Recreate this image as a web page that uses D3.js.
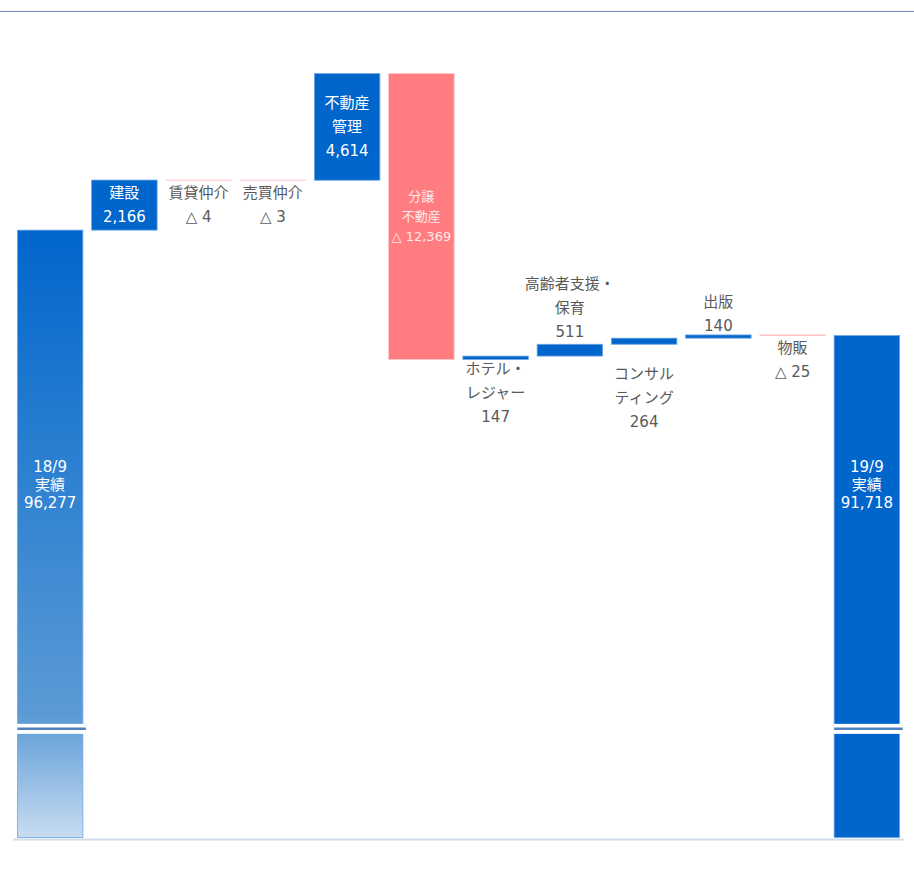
<!DOCTYPE html>
<html lang="ja">
<head>
<meta charset="utf-8">
<script src="https://cdn.jsdelivr.net/npm/d3@7/dist/d3.min.js"></script>
<style>
  html, body { margin: 0; padding: 0; background: #ffffff; }
  svg { display: block; }
  text { font-family: "DejaVu Sans", "Noto Sans CJK JP", sans-serif; }
</style>
</head>
<body>
<svg id="chart" width="914" height="875"></svg>
<script>
// 売上高の増減要因（前年同期 → 当期）
const categories = ["18/9 実績", "建設", "賃貸仲介", "売買仲介", "不動産管理", "分譲不動産",
  "ホテル・レジャー", "高齢者支援・保育", "コンサルティング", "出版", "物販", "19/9 実績"];
const barKinds = ["total", "delta", "delta", "delta", "delta", "delta",
  "delta", "delta", "delta", "delta", "delta", "total"];
const values = [96277, 2166, -4, -3, 4614, -12369, 147, 511, 264, 140, -25, 91718];
const nameLines = [["18/9", "実績"], ["建設"], ["賃貸仲介"], ["売買仲介"], ["不動産", "管理"],
  ["分譲", "不動産"], ["ホテル・", "レジャー"], ["高齢者支援・", "保育"], ["コンサル", "ティング"],
  ["出版"], ["物販"], ["19/9", "実績"]];
const yDomain = [70000, 105000];   // 縦軸は 70,000 から（省略線あり）
const breakValue = 74700;          // 省略線の位置

// ラベル配置（棒の内側 / 上 / 下）
const labelPlace = ["total", "inside", "below", "below", "inside", "inside",
  "below", "above", "below", "above", "below", "total"];
const labelGap = [0, 0, 13, 13, 0, 0, 9.6, 12, 30, 8.6, 12, 0];

const svg = d3.select("#chart");
const W = 914;

const x = d3.scaleBand()
  .domain(categories)
  .range([13, 904])
  .paddingInner(0.118)
  .paddingOuter(0.059);

const y = d3.scaleLinear().domain(yDomain).range([837.5, 28.5]);

// 累積して各棒の始点・終点を求める
let running = 0;
const bars = categories.map((c, i) => {
  let lo, hi;
  if (barKinds[i] === "total") {
    running = values[i];
    lo = yDomain[0]; hi = values[i];
  } else {
    const start = running;
    running += values[i];
    lo = Math.min(start, running); hi = Math.max(start, running);
  }
  return { cat: c, i, kind: barKinds[i], v: values[i], lo, hi };
});

const fmt = d3.format(",");
const valueText = v => (v < 0 ? "△ " + fmt(-v) : fmt(v));

// 上端の罫線
svg.append("line")
  .attr("x1", 0).attr("x2", W).attr("y1", 11.5).attr("y2", 11.5)
  .attr("stroke", "#6b8fc8").attr("stroke-width", 1);

// グラデーション（前年同期）
const defs = svg.append("defs");
const grad = defs.append("linearGradient")
  .attr("id", "gradPrev").attr("x1", 0).attr("x2", 0).attr("y1", 0).attr("y2", 1);
grad.append("stop").attr("offset", "0%").attr("stop-color", "#0066cc");
grad.append("stop").attr("offset", "80%").attr("stop-color", "#5b9bd5");
grad.append("stop").attr("offset", "100%").attr("stop-color", "#c8dcf2");

const fillOf = d => {
  if (d.kind === "total") return d.i === 0 ? "url(#gradPrev)" : "#0066cc";
  return d.v < 0 ? "#ff7c80" : "#0066cc";
};
const strokeOf = d => (d.kind === "delta" && d.v < 0) ? "#ffc4c6" : "#6fa6e4";

svg.append("g").selectAll("rect")
  .data(bars)
  .join("rect")
  .attr("x", d => x(d.cat))
  .attr("width", x.bandwidth())
  .attr("y", d => y(d.hi))
  .attr("height", d => Math.max(0.01, y(d.lo) - y(d.hi)))
  .attr("fill", fillOf)
  .attr("stroke", strokeOf)
  .attr("stroke-width", 0.8);

// 基準線
svg.append("line")
  .attr("x1", 13).attr("x2", 904)
  .attr("y1", y(yDomain[0]) + 2).attr("y2", y(yDomain[0]) + 2)
  .attr("stroke", "#d3deee").attr("stroke-width", 2);

// 省略線（合計の棒）
const by = y(breakValue);
const brk = svg.append("g").selectAll("g")
  .data(bars.filter(d => d.kind === "total"))
  .join("g");
brk.append("rect")
  .attr("x", d => x(d.cat) - 0.5)
  .attr("width", x.bandwidth() + 4)
  .attr("y", by - 5).attr("height", 10)
  .attr("fill", "#ffffff");
brk.append("line")
  .attr("x1", d => x(d.cat)).attr("x2", d => x(d.cat) + x.bandwidth() + 3)
  .attr("y1", by).attr("y2", by)
  .attr("stroke", "#4f81bd").attr("stroke-width", 2.5);

// データラベル
const labels = svg.append("g");
bars.forEach(d => {
  const lines = nameLines[d.i].concat([valueText(d.v)]);
  const cx = x(d.cat) + x.bandwidth() / 2;
  const place = labelPlace[d.i];
  const top = y(d.hi), bot = y(d.lo);
  let step = 24, size = 15, color = "#595959", first;
  if (place === "total") {
    step = 18.4; color = "#ffffff";
    first = 485 - step;
  } else if (place === "inside") {
    color = "#ffffff";
    if (d.v < 0) { step = 19.7; size = 13; color = "#ffeaea"; }
    first = (top + bot) / 2 - (lines.length - 1) * step / 2;
  } else if (place === "above") {
    first = top - labelGap[d.i] - (lines.length - 1) * step;
  } else {
    first = bot + labelGap[d.i];
  }
  const t = labels.append("text")
    .attr("text-anchor", "middle")
    .attr("font-size", size)
    .attr("fill", color);
  lines.forEach((s, k) => {
    t.append("tspan")
      .attr("x", cx)
      .attr("y", first + k * step)
      .attr("dominant-baseline", "central")
      .text(s);
  });
});
</script>
</body>
</html>
